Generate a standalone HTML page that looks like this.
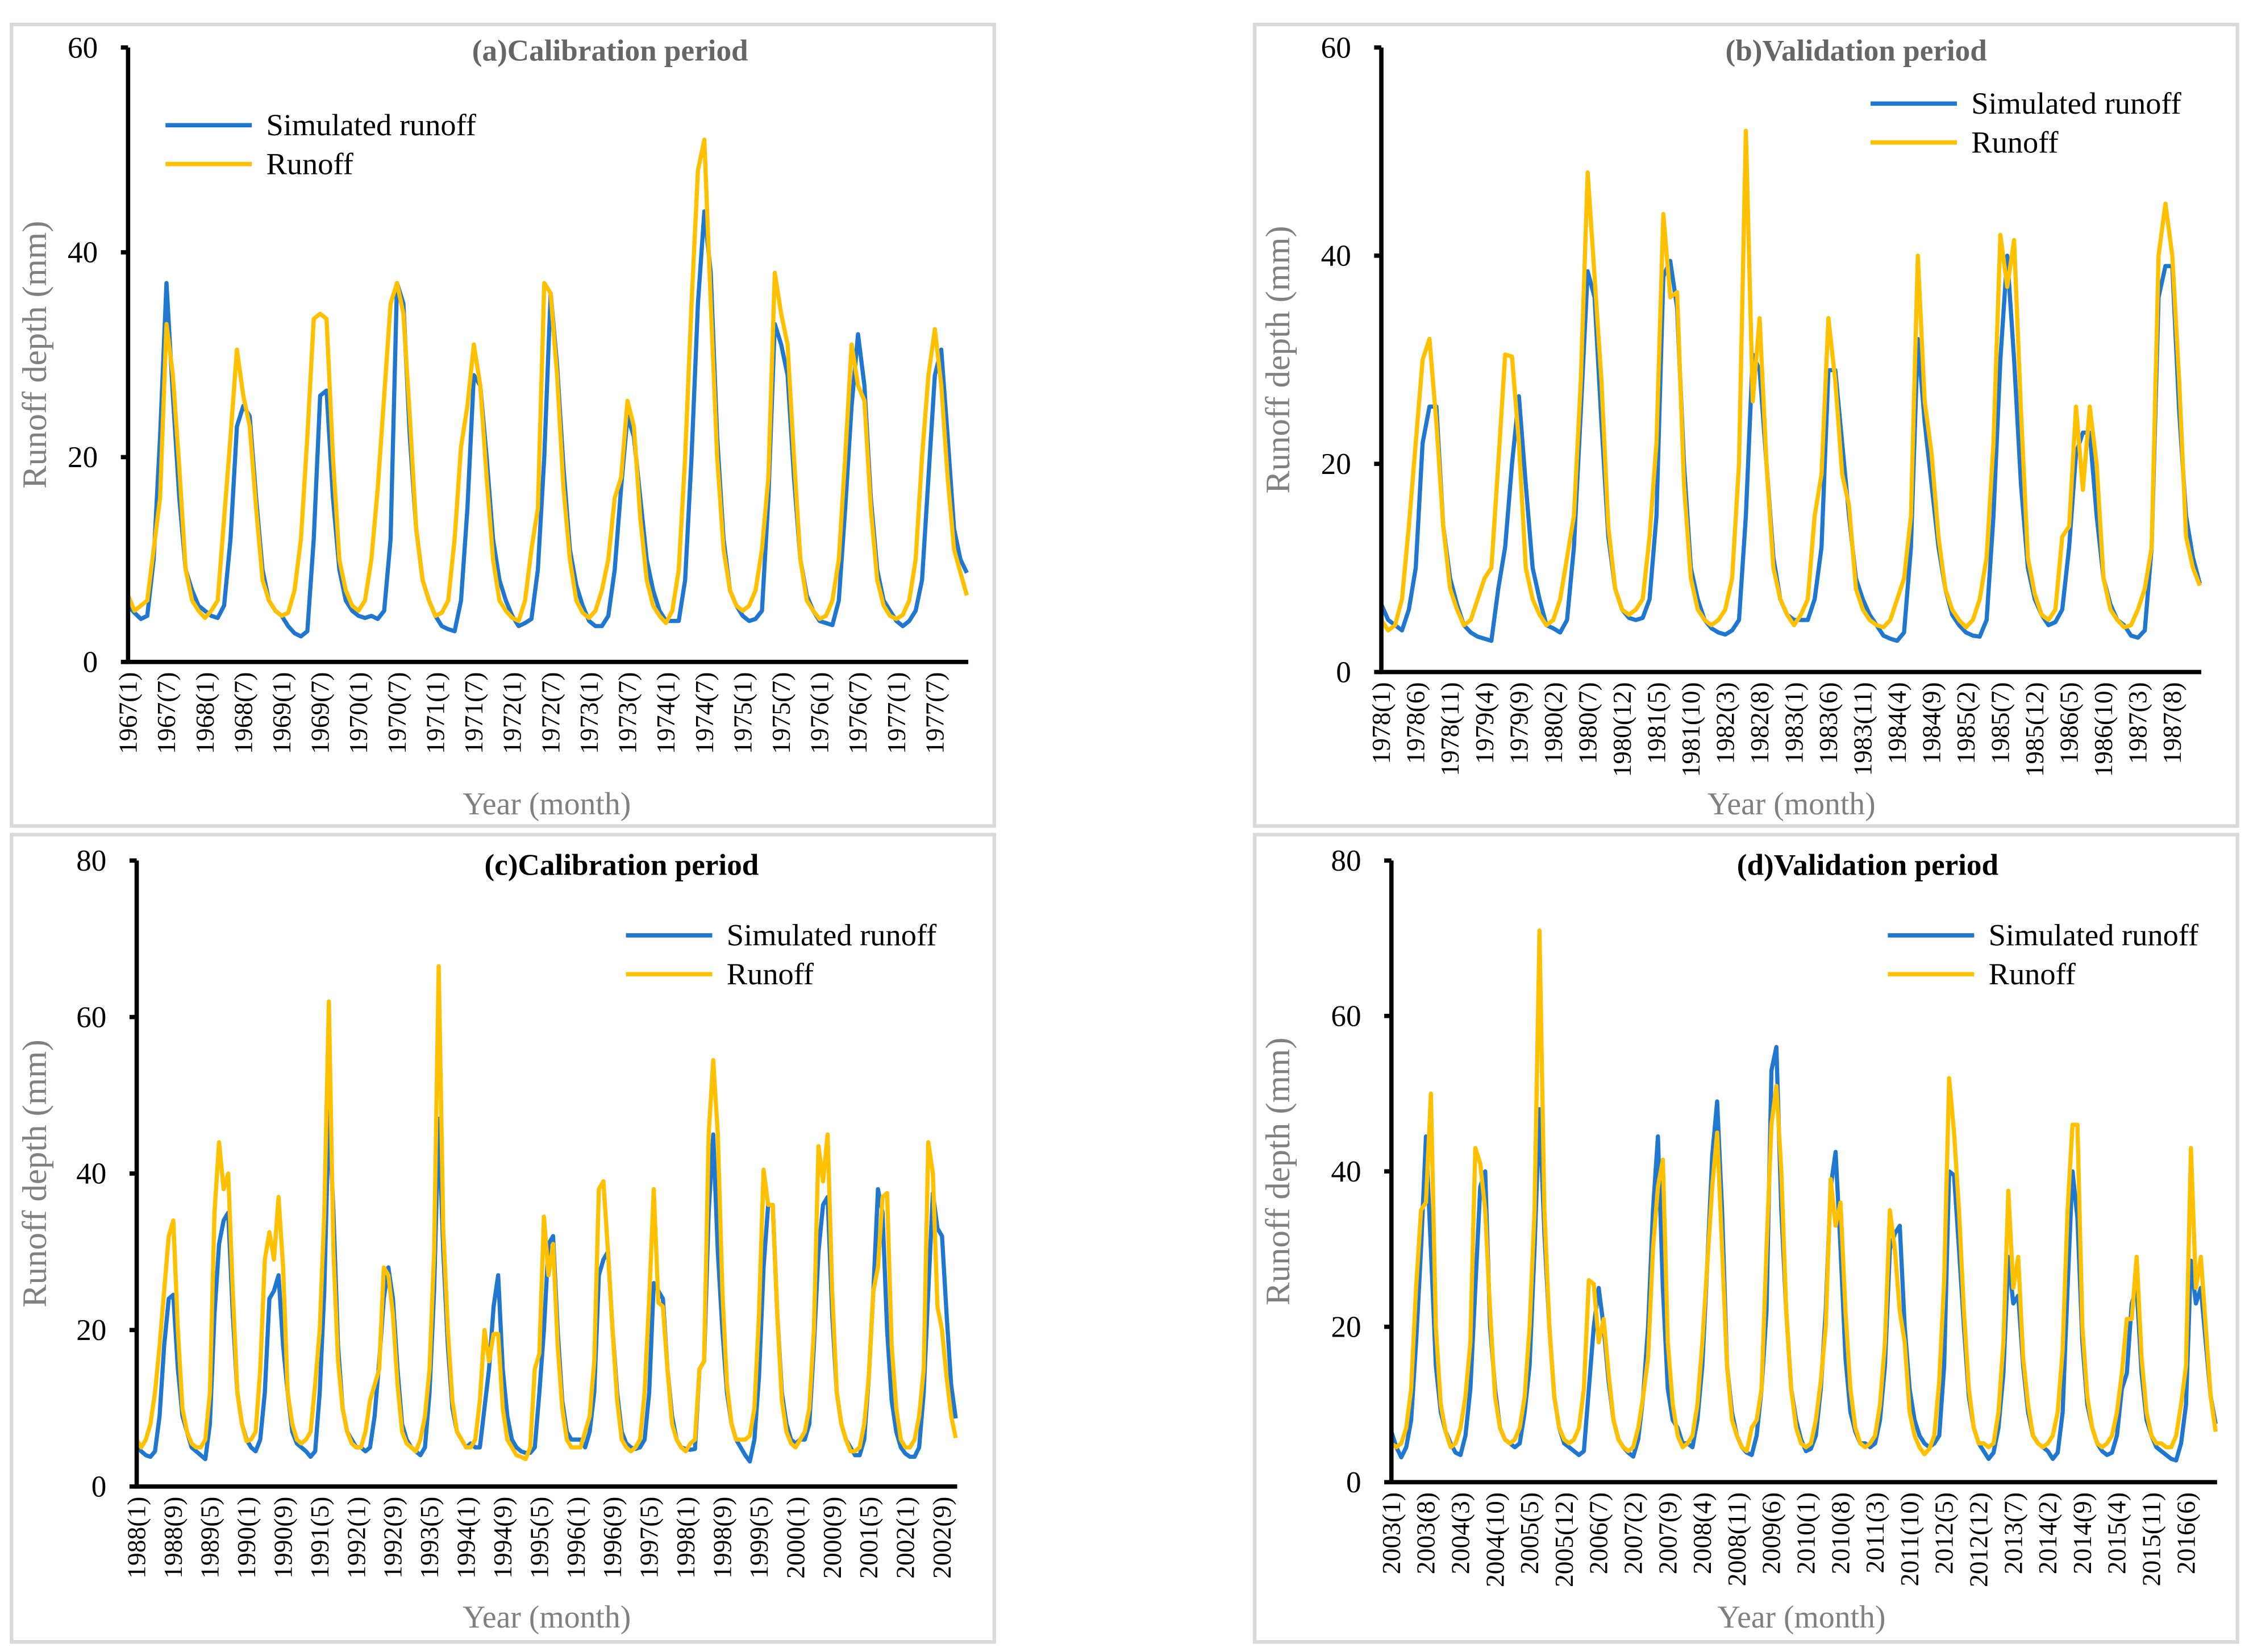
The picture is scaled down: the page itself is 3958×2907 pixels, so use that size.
<!DOCTYPE html>
<html><head><meta charset="utf-8"><style>
html,body{margin:0;padding:0;background:#fff;}
svg{display:block;}
text{font-family:"Liberation Serif",serif;}
</style></head><body>
<svg id="fig" width="3958" height="2907" viewBox="0 0 1563 1148" preserveAspectRatio="none" xmlns="http://www.w3.org/2000/svg"></svg>
<script>
// Panel (a) 1967-1977
const simA = [5.5,4.8,4.2,4.5,10,22,37,26,16,9,7,5.5, 5,4.5,4.3,5.5,12,23,25,24,16,9,6,5, 4.5,3.5,2.8,2.5,3,12,26,26.5,16,9,6,5, 4.5,4.3,4.5,4.2,5,12,37,35,22,13,8,6, 4.5,3.5,3.2,3,6,15,28,27,20,12,8,6, 4.5,3.5,3.8,4.2,9,20,36,29,19,11,7.5,5.5, 4,3.5,3.5,4.5,9,17,24,22,16,10,7,5, 4,4,4,8,20,35,44,38,22,12,7,5.5, 4.5,4,4.2,5,16,33,31,28,18,10,6.5,5, 4,3.8,3.6,6,15,25,32,27,16,9,6,5, 4,3.5,4,5,8,18,28,30.5,22,13,10,8.7];
const obsA = [6.5,5,5.5,6,11,16,33,28,19,9,6,5, 4.3,5,6,14,22,30.5,26,23,15,8,6,5, 4.5,4.8,7,12,22,33.5,34,33.5,20,10,7,5.5, 5,6,10,17,26,35,37,34,24,13,8,6, 4.5,4.8,6,12,21,25,31,27,18,10,6,5, 4.3,4,6,11,15,37,36,28,17,10,6,4.8, 4.3,5,7,10,16,18,25.5,23,14,8,5.5,4.5, 3.8,5,9,20,35,48,51,35,20,11,7,5.5, 5,5.5,7,11,18,38,34,31,20,10,6,5, 4.2,4.5,6,10,20,31,27,25.5,15,8,5.5,4.5, 4.2,4.6,6,10,20,28,32.5,27,18,11,8.7,6.5];
const ticksA = ["1967(1)","1967(7)","1968(1)","1968(7)","1969(1)","1969(7)","1970(1)","1970(7)","1971(1)","1971(7)","1972(1)","1972(7)","1973(1)","1973(7)","1974(1)","1974(7)","1975(1)","1975(7)","1976(1)","1976(7)","1977(1)","1977(7)"];
// Panel (b) 1978-1987
const simB = [6.5,5,4.5,4,6,10,22,25.5,25.5,14,9,6.5, 4.5,3.8,3.4,3.2,3,8,12,20,26.5,18,10,7, 4.5,4.2,3.8,5,12,25,38.5,36,24,13,8,6, 5.2,5,5.2,7,15,38,39.5,35,20,10,7,5, 4.2,3.8,3.6,4,5,15,30.5,29,20,11,7,5.5, 5,5,5,7,12,29,29,22,15,9,7,5.5, 4.5,3.5,3.2,3,3.8,12,32,24,18,12,8,5.5, 4.5,3.8,3.5,3.4,5,15,30,40,30,18,10,7, 5.5,4.5,4.8,6,12,21,23,23,15,9,6.5,5, 4.5,3.5,3.3,4,12,36,39,39,25,15,11,8.5];
const obsB = [5,4,4.5,7,14,22,30,32,24,14,8,6, 4.5,5,7,9,10,20,30.5,30.3,22,10,7,5.5, 4.5,5,7,11,15,28,48,38,28,14,8,6, 5.5,6,7,13,22,44,36,36.5,18,9,6,5, 4.5,5,6,9,20,52,26,34,20,10,7,5.5, 4.5,5.5,7,15,19,34,28,19,16,8,6,5, 4.5,4.3,5,7,9,15,40,26,21,13,8,6, 5,4.3,5,7,11,22,42,37,41.5,25,11,7.5, 5.5,5,6,13,14,25.5,17.5,25.5,20,9,6,5, 4.3,4.5,6,8,12,40,45,40,28,13,10,8.3];
const ticksB = ["1978(1)","1978(6)","1978(11)","1979(4)","1979(9)","1980(2)","1980(7)","1980(12)","1981(5)","1981(10)","1982(3)","1982(8)","1983(1)","1983(6)","1983(11)","1984(4)","1984(9)","1985(2)","1985(7)","1985(12)","1986(5)","1986(10)","1987(3)","1987(8)"];
// Panel (c) 1988-2002
const simC = [5,4.5,4,3.8,4.5,9,18,24,24.5,15,9,7, 5,4.5,4,3.5,8,22,31,34,35,22,12,8, 6,5,4.5,6,12,24,25,27,18,12,7,5.5, 5,4.5,3.8,4.5,12,25,48,35,18,10,7,6, 5,5,4.5,5,9,16,24,28,24,15,8,6, 5,4.5,4,5,12,25,47,30,18,10,7,6, 5,5.5,5,5,10,15,23,27,15,9,6,5, 4.5,4.3,4.3,5,12,20,31,32,20,11,7,6, 6,6,5,7,12,27,29,30,20,12,7,5.5, 5,4.8,5,6,12,26,25,24,15,9,6,5, 4.8,4.7,4.8,15,16,35,45,30,20,12,8,6, 5,4,3.2,6,14,28,36,36,22,12,8,6, 5.5,6,6,8,18,30,36,37,22,12,8,6, 5,4,4,6,14,25,38,35,20,11,7,5, 4.2,3.8,3.8,5,12,25,37.5,33,32,22,13,8.7];
const obsC = [6,5,6,8,12,18,25,32,34,20,10,7, 5.5,5,5,6,12,35,44,38,40,25,12,8, 5.8,6,7,15,29,32.5,29,37,28,12,8,6, 5.5,6,7,13,20,35,62,30,16,10,7,5.5, 5,5,7,11,13,15,28,27,22,13,7,5.5, 5,4.5,6,9,15,30,66.5,33,20,11,7,6, 5,5,6,11,20,16,19.5,19.5,10,6,5,4, 3.8,3.5,5,15,17,34.5,27,31,18,10,6,5, 5,5,7,9,16,38,39,30,20,11,6,5, 4.5,5,6,12,24,38,23.5,23,15,8,6,5, 4.5,5.5,6,15,16,45,54.5,45,25,13,8,6, 6,6,6.5,10,22,40.5,36,36,22,11,7,5.5, 5,6,7,10,20,43.5,39,45,25,12,8,6, 4.5,4.5,5,8,14,25,28,37,37.5,18,10,6, 5,5,6,9,15,44,40,23,20,14,9,6.2];
const ticksC = ["1988(1)","1988(9)","1989(5)","1990(1)","1990(9)","1991(5)","1992(1)","1992(9)","1993(5)","1994(1)","1994(9)","1995(5)","1996(1)","1996(9)","1997(5)","1998(1)","1998(9)","1999(5)","2000(1)","2000(9)","2001(5)","2002(1)","2002(9)"];
// Panel (d) 2003-2016
const simD = [6.5,4.5,3.2,4.5,8,18,30,44.5,30,15,9,6.5, 5,3.8,3.5,6,12,25,38,40,20,12,7,5.5, 5,4.5,5,9,15,30,48,32,20,11,7,5, 4.5,4,3.5,4,12,20,25,20,13,8,5.5,4.5, 3.8,3.3,5.5,11,20,35,44.5,25,12,8,7,5, 5,4.5,8,15,28,42,49,35,15,9,6,4.5, 3.8,3.5,6,12,22,53,56,35,22,12,8,5.5, 4,4.3,6,12,22,38,42.5,30,16,9,6.5,5, 5,4.5,5,8,15,30,32,33,20,12,8,6, 5,4.5,5,6,15,40,39.5,30,20,11,7,5, 4,3,3.8,7,14,29,23,24,15,9,6,5, 4.5,4,3,3.8,9,25,40,34,18,10,7,5, 4,3.5,3.8,6,12,14,23,25,14,8,6,4.5, 4,3.5,3,2.8,5,10,28.5,23,25,18,11,7.5];
const obsD = [5,4.5,5,7,12,25,35,36,50,20,10,6.5, 4.5,5,7,11,18,43,41,35,22,11,7,5.5, 5,5.5,7,11,20,35,71,35,20,11,7,5.5, 5,5.5,7,12,26,25.5,18,21,14,8,5.5,4.5, 4,4.5,7,11,16,30,38,41.5,18,10,6,4.5, 5,6,10,18,28,38,45,30,15,8,6,4.5, 4,7,8,12,30,46,51,40,22,12,7,5, 4.5,5,8,13,20,39,33,36,22,12,7,5, 4.5,5,6,10,18,35,30,22,18,9,6,4.5, 3.6,4.3,6,13,26,52,45,35,22,12,7,5, 5,4.5,5,9,18,37.5,25,29,16,10,6,5, 4.5,5,6,9,17,35,46,46,20,11,7,5, 4.5,5,6,9,14,21,21,29,16,9,6,5, 5,4.5,4.5,6,10,15,43,25,29,20,11,6.5];
const ticksD = ["2003(1)","2003(8)","2004(3)","2004(10)","2005(5)","2005(12)","2006(7)","2007(2)","2007(9)","2008(4)","2008(11)","2009(6)","2010(1)","2010(8)","2011(3)","2011(10)","2012(5)","2012(12)","2013(7)","2014(2)","2014(9)","2015(4)","2015(11)","2016(6)"];

const NS = "http://www.w3.org/2000/svg";
const svg = document.getElementById('fig');
function mk(tag, attrs, parent){const e=document.createElementNS(NS,tag);for(const k in attrs)e.setAttribute(k,attrs[k]);(parent||svg).appendChild(e);return e;}

const panels = [
 {id:'a', sim:simA, obs:obsA, ticks:ticksA, tstep:6, title:'(a)Calibration period', tcol:'#666', fx:8, fy:17, x0:89, dx:4.45, y0:460, yt:33, ymax:60, yticks:[0,20,40,60], tx:424, ty:42, lx:115, ly:87, xt:380, xty:566},
 {id:'b', sim:simB, obs:obsB, ticks:ticksB, tstep:5, title:'(b)Validation period', tcol:'#666', fx:872, fy:17, x0:960, dx:4.78, y0:467, yt:33, ymax:60, yticks:[0,20,40,60], tx:1290, ty:42, lx:1300, ly:72, xt:1245, xty:566},
 {id:'c', sim:simC, obs:obsC, ticks:ticksC, tstep:8, title:'(c)Calibration period', tcol:'#000', fx:8, fy:580, x0:95, dx:3.18, y0:1033, yt:598, ymax:80, yticks:[0,20,40,60,80], tx:432, ty:608, lx:435, ly:650, xt:380, xty:1131},
 {id:'d', sim:simD, obs:obsD, ticks:ticksD, tstep:7, title:'(d)Validation period', tcol:'#000', fx:872, fy:580, x0:967, dx:3.43, y0:1030, yt:598, ymax:80, yticks:[0,20,40,60,80], tx:1298, ty:608, lx:1312, ly:650, xt:1252, xty:1131}
];

panels.forEach(p=>{
  const g = mk('g',{});
  
  
  const fr = mk('rect',{x:p.fx,y:p.fy,width:683,height:p.id<'c'?557:561,fill:'#fff',stroke:'#d9d9d9','stroke-width':2.5},g);
  
  
  const n = p.sim.length;
  const xs = i => p.x0 + i*p.dx;
  const ys = v => p.y0 - v/p.ymax*(p.y0-p.yt);
  p.yticks.forEach(v=>{
    const t = mk('text',{x:p.x0-21,y:ys(v)+7,'font-size':21,'text-anchor':'end',fill:'#000'},g);
    t.textContent = v;
    
    
    const tk = mk('line',{x1:p.x0-5,x2:p.x0,y1:ys(v),y2:ys(v),stroke:'#000','stroke-width':3},g);
    
    
  });
  p.ticks.forEach((s,k)=>{
    const x = xs(k*p.tstep)+6, y = p.y0+7;
    const t = mk('text',{x:x,y:y,'font-size':18,'text-anchor':'end',fill:'#000',transform:`rotate(-90 ${x} ${y})`},g);
    t.textContent = s;
    
    
  });
  const mkPath = (arr,col,name)=>{
    let d=''; arr.forEach((v,i)=>{d+=(i?'L':'M')+xs(i).toFixed(2)+' '+ys(v).toFixed(2);});
    const pa = mk('path',{d:d,fill:'none',stroke:col,'stroke-width':2.9,'stroke-linejoin':'round'},g);
    
    
  };
  mkPath(p.sim,'#1f77cf','simulated-runoff-line');
  mkPath(p.obs,'#ffc000','runoff-line');
  const ax = mk('path',{d:`M${p.x0} ${p.yt}L${p.x0} ${p.y0}L${xs(n-1)+1} ${p.y0}`,fill:'none',stroke:'#000','stroke-width':3},g);
  
  
  const tt = mk('text',{x:p.tx,y:p.ty,'font-size':21,'font-weight':'bold','text-anchor':'middle',fill:p.tcol},g);
  tt.textContent = p.title;
  
  
  const yx = p.fx+24, yy = (p.yt+p.y0)/2;
  const yt = mk('text',{x:yx,y:yy,'font-size':24,'text-anchor':'middle',fill:'#808080',transform:`rotate(-90 ${yx} ${yy})`},g);
  yt.textContent = 'Runoff depth (mm)';
  
  
  const xt = mk('text',{x:p.xt,y:p.xty,'font-size':22,'text-anchor':'middle',fill:'#808080'},g);
  xt.textContent = 'Year (month)';
  
  
  const lg = mk('g',{},g);
  
  
  [['Simulated runoff','#1f77cf',0],['Runoff','#ffc000',27]].forEach(([lab,col,off])=>{
    const l = mk('line',{x1:p.lx,x2:p.lx+60,y1:p.ly+off,y2:p.ly+off,stroke:col,'stroke-width':3},lg);
    
    
    const t = mk('text',{x:p.lx+70,y:p.ly+off+7,'font-size':21.5,fill:'#000'},lg);
    t.textContent = lab;
    
    
  });
});
</script>
</body></html>
